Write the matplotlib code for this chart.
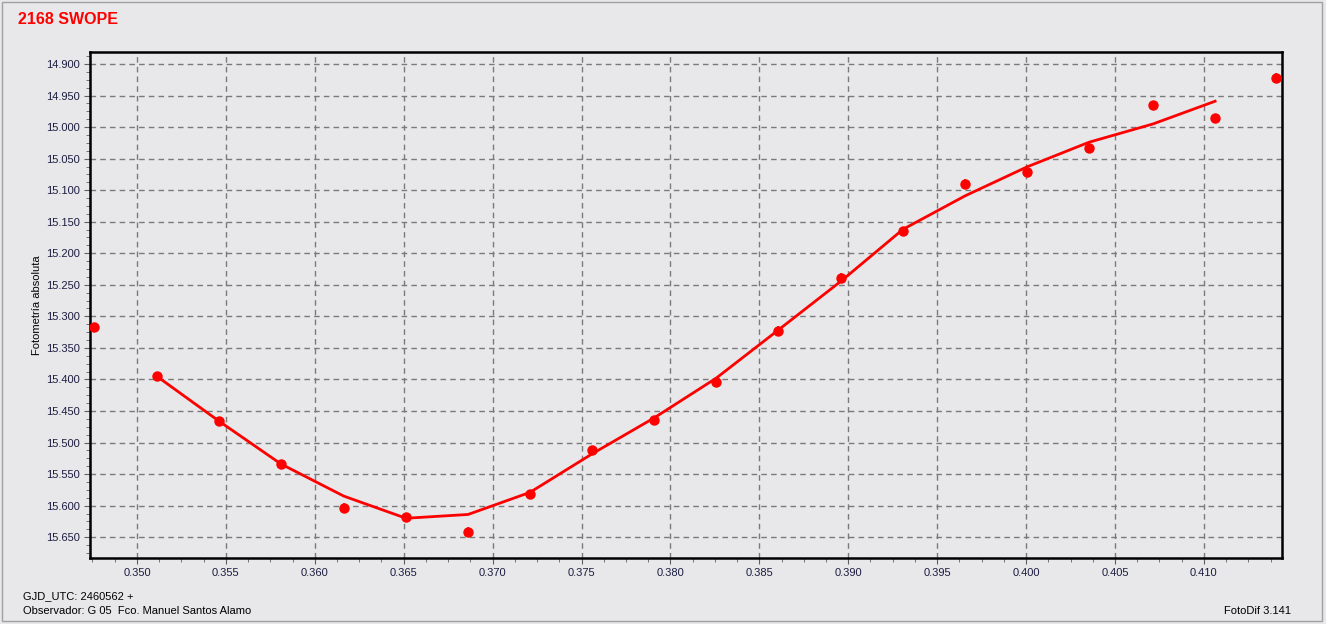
import numpy as np
import matplotlib
matplotlib.use("Agg")
import matplotlib.pyplot as plt
from matplotlib.ticker import MultipleLocator, FormatStrFormatter
from matplotlib.patches import Rectangle

plt.rcParams["font.family"] = ["Liberation Sans", "DejaVu Sans"]

# observed points (GJD fraction, absolute magnitude)
obs_x = [0.34758, 0.35112, 0.35461, 0.35810, 0.36164, 0.36513, 0.36862,
         0.37210, 0.37559, 0.37908, 0.38257, 0.38605, 0.38960, 0.39308,
         0.39657, 0.40006, 0.40354, 0.40714, 0.41063, 0.41406]
obs_mag = [15.317, 15.395, 15.466, 15.534, 15.603, 15.618, 15.641,
           15.582, 15.512, 15.465, 15.404, 15.323, 15.239, 15.165,
           15.090, 15.071, 15.033, 14.965, 14.986, 14.922]
obs_err = [0.007] * 20

# smoothed curve as drawn
curve_x = obs_x[1:19]
curve_mag = [15.395, 15.466, 15.534, 15.585, 15.620, 15.614, 15.579,
             15.518, 15.461, 15.398, 15.322, 15.244, 15.162, 15.109,
             15.063, 15.024, 14.995, 14.959]

BG = "#E8E8EA"
RED = "#FF0000"

fig = plt.figure(figsize=(13.26, 6.24), dpi=100, facecolor=BG)
ax = fig.add_axes([90 / 1326, 1 - 558 / 624, 1192 / 1326, 506 / 624])
ax.set_facecolor(BG)

ax.plot(curve_x, curve_mag, color=RED, lw=2, zorder=3)
ax.errorbar(obs_x, obs_mag, yerr=obs_err, fmt="o", color=RED, ms=6.5,
            elinewidth=1.2, capsize=0, zorder=4)

ax.set_xlim(0.34736, 0.41439)
ax.set_ylim(15.683, 14.881)

ax.xaxis.set_major_locator(MultipleLocator(0.005))
ax.xaxis.set_minor_locator(MultipleLocator(0.00125))
ax.yaxis.set_major_locator(MultipleLocator(0.05))
ax.yaxis.set_minor_locator(MultipleLocator(0.0125))
ax.xaxis.set_major_formatter(FormatStrFormatter("%.3f"))
ax.yaxis.set_major_formatter(FormatStrFormatter("%.3f"))

ax.grid(True, which="major", color="#7a7a7a", ls=(0, (4, 3)), lw=1)
ax.tick_params(which="both", direction="out", labelsize=8,
               labelcolor="#1c1c40", color="#606060")
ax.tick_params(which="major", length=4)
ax.tick_params(which="minor", length=3)
for sp in ax.spines.values():
    sp.set_linewidth(1.8)
    sp.set_color("black")

ax.set_ylabel("Fotometría absoluta", fontsize=8)
ax.yaxis.set_label_coords(-48 / 1192, 0.5)

fig.text(18 / 1326, 1 - 19 / 624, "2168 SWOPE", color=RED, fontsize=11.5,
         fontweight="bold", va="center")
fig.text(23 / 1326, 1 - 596 / 624, "GJD_UTC: 2460562 +", fontsize=8,
         va="center")
fig.text(23 / 1326, 1 - 611 / 624,
         "Observador: G 05  Fco. Manuel Santos Alamo", fontsize=8,
         va="center")
fig.text(1291 / 1326, 1 - 611 / 624, "FotoDif 3.141", fontsize=8,
         va="center", ha="right")

# window frame
fig.patches.append(Rectangle((2 / 1326, 3 / 624), 1320 / 1326, 619 / 624,
                             transform=fig.transFigure, fill=False,
                             edgecolor="#A0A0A0", lw=1))

fig.savefig("out.png", dpi=100, facecolor=BG)
